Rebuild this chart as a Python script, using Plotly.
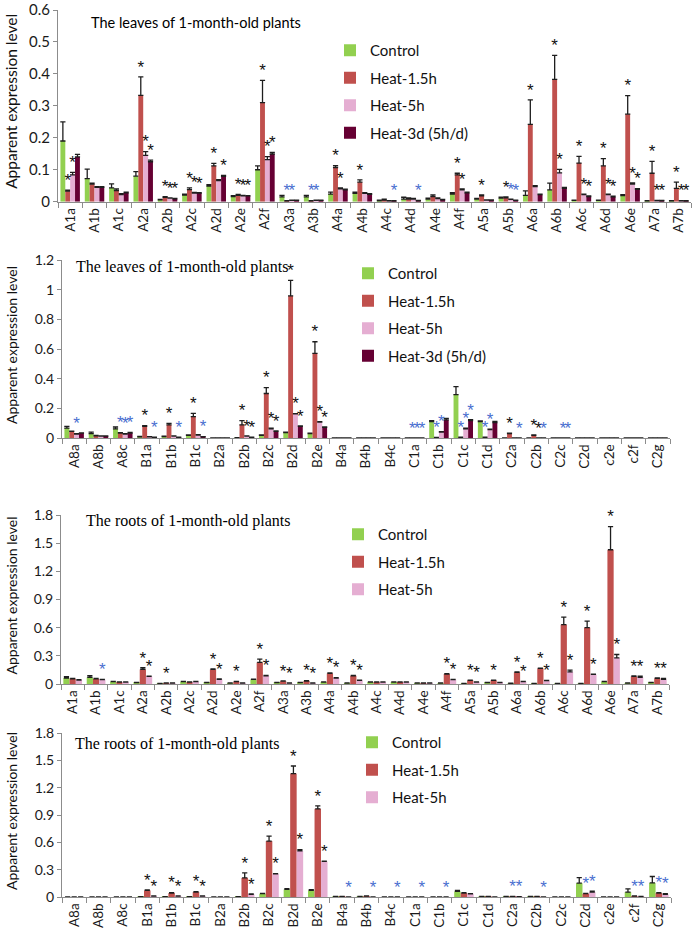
import plotly.graph_objects as go

# ---------------- categories ----------------
cats_a = ["A1a", "A1b", "A1c", "A2a", "A2b", "A2c", "A2d", "A2e", "A2f", "A3a", "A3b",
          "A4a", "A4b", "A4c", "A4d", "A4e", "A4f", "A5a", "A5b", "A6a", "A6b", "A6c",
          "A6d", "A6e", "A7a", "A7b"]
cats_b = ["A8a", "A8b", "A8c", "B1a", "B1b", "B1c", "B2a", "B2b", "B2c", "B2d", "B2e",
          "B4a", "B4b", "B4c", "C1a", "C1b", "C1c", "C1d", "C2a", "C2b", "C2c", "C2d",
          "c2e", "c2f", "C2g"]
series_names = ["Control", "Heat-1.5h", "Heat-5h", "Heat-3d (5h/d)"]

# ---------------- panel 1 : leaves, A genes ----------------
p1_ctrl = [0.19, 0.072, 0.043, 0.08, 0.006, 0.021, 0.049, 0.016, 0.10, 0.015, 0.015, 0.024, 0.026,
           0.003, 0.008, 0.008, 0.024, 0.008, 0.011, 0.02, 0.037, 0.004, 0.004, 0.019, 0.002, 0.002]
p1_ctrl_err = [0.06, 0.03, 0.013, 0.014, 0.001, 0.003, 0.004, 0.003, 0.012, 0.005, 0.005, 0.006, 0.004,
               0.002, 0.006, 0.003, 0.004, 0.002, 0.003, 0.014, 0.021, 0.001, 0.001, 0.003, 0.001, 0.001]
p1_h15 = [0.033, 0.055, 0.035, 0.333, 0.014, 0.038, 0.112, 0.02, 0.31, 0.002, 0.002, 0.107, 0.061,
          0.005, 0.008, 0.016, 0.084, 0.018, 0.012, 0.242, 0.383, 0.121, 0.112, 0.274, 0.089, 0.042]
p1_h15_err = [0.003, 0.003, 0.005, 0.058, 0.002, 0.005, 0.008, 0.003, 0.07, 0.001, 0.001, 0.006, 0.007,
              0.003, 0.004, 0.005, 0.005, 0.003, 0.003, 0.077, 0.075, 0.021, 0.023, 0.058, 0.037, 0.019]
p1_h5 = [0.084, 0.045, 0.022, 0.145, 0.011, 0.027, 0.066, 0.018, 0.132, 0.004, 0.004, 0.04, 0.026,
         0.002, 0.008, 0.01, 0.037, 0.005, 0.007, 0.047, 0.09, 0.022, 0.022, 0.055, 0.003, 0.002]
p1_h5_err = [0.008, 0.002, 0.003, 0.012, 0.001, 0.002, 0.003, 0.002, 0.009, 0.001, 0.001, 0.003, 0.002,
             0.001, 0.002, 0.002, 0.003, 0.001, 0.001, 0.003, 0.011, 0.002, 0.002, 0.004, 0.001, 0.001]
p1_h3d = [0.14, 0.045, 0.028, 0.125, 0.009, 0.027, 0.079, 0.018, 0.149, 0.004, 0.004, 0.037, 0.023,
          0.002, 0.003, 0.006, 0.028, 0.005, 0.004, 0.022, 0.042, 0.016, 0.015, 0.039, 0.003, 0.002]
p1_h3d_err = [0.008, 0.002, 0.002, 0.005, 0.001, 0.001, 0.003, 0.001, 0.005, 0.001, 0.001, 0.002, 0.002,
              0.001, 0.001, 0.001, 0.002, 0.001, 0.001, 0.002, 0.003, 0.002, 0.002, 0.002, 0.001, 0.001]
# significance marks: 0 none, 1 black asterisk, 2 blue asterisk
p1_sig_h15 = [1, 0, 0, 1, 1, 1, 1, 1, 1, 2, 2, 1, 1, 0, 0, 0, 1, 1, 1, 1, 1, 1, 1, 1, 1, 1]
p1_sig_h5 = [1, 0, 0, 1, 1, 1, 0, 1, 1, 2, 2, 1, 0, 0, 0, 0, 1, 0, 2, 0, 1, 1, 1, 1, 1, 1]
p1_sig_h3d = [0, 0, 0, 1, 1, 1, 1, 1, 1, 0, 0, 0, 0, 2, 2, 0, 0, 0, 2, 0, 0, 1, 1, 1, 1, 1]

# ---------------- panel 2 : leaves, A8/B/C genes ----------------
p2_ctrl = [0.067, 0.029, 0.062, 0.008, 0.01, 0.018, 0, 0.002, 0.018, 0.036, 0.029, 0, 0,
           0, 0, 0.111, 0.293, 0.111, 0, 0, 0, 0, 0, 0, 0]
p2_ctrl_err = [0.011, 0.01, 0.012, 0.002, 0.002, 0.003, 0, 0.001, 0.003, 0.004, 0.004, 0, 0,
               0, 0, 0.006, 0.054, 0.005, 0, 0, 0, 0, 0, 0, 0]
p2_h15 = [0.044, 0.015, 0.033, 0.078, 0.089, 0.144, 0, 0.089, 0.30, 0.958, 0.571, 0, 0,
          0, 0, 0.003, 0.004, 0.004, 0.029, 0.018, 0, 0, 0, 0, 0]
p2_h15_err = [0.003, 0.002, 0.003, 0.005, 0.01, 0.022, 0, 0.028, 0.04, 0.105, 0.078, 0, 0,
              0, 0, 0.001, 0.001, 0.001, 0.003, 0.003, 0, 0, 0, 0, 0]
p2_h5 = [0.027, 0.013, 0.027, 0.008, 0.012, 0.02, 0, 0.013, 0.062, 0.162, 0.107, 0, 0,
         0, 0, 0.04, 0.062, 0.056, 0, 0, 0, 0, 0, 0, 0]
p2_h5_err = [0.002, 0.001, 0.002, 0.001, 0.002, 0.002, 0, 0.002, 0.004, 0.003, 0.004, 0, 0,
             0, 0, 0.003, 0.004, 0.003, 0, 0, 0, 0, 0, 0, 0]
p2_h3d = [0.033, 0.013, 0.033, 0.004, 0.004, 0.008, 0, 0.005, 0.044, 0.078, 0.071, 0, 0,
          0, 0, 0.122, 0.118, 0.104, 0, 0, 0, 0, 0, 0, 0]
p2_h3d_err = [0.002, 0.001, 0.005, 0.001, 0.001, 0.001, 0, 0.001, 0.004, 0.003, 0.004, 0, 0,
              0, 0, 0.01, 0.005, 0.008, 0, 0, 0, 0, 0, 0, 0]
p2_sig_h15 = [0, 0, 2, 1, 1, 1, 0, 1, 1, 1, 1, 0, 0, 0, 2, 2, 2, 2, 1, 1, 0, 0, 0, 0, 0]
p2_sig_h5 = [2, 0, 2, 0, 0, 0, 0, 1, 1, 1, 1, 0, 0, 0, 2, 2, 2, 2, 0, 1, 2, 0, 0, 0, 0]
p2_sig_h3d = [0, 0, 2, 2, 2, 2, 0, 1, 1, 1, 1, 0, 0, 0, 2, 0, 2, 0, 2, 2, 2, 0, 0, 0, 0]

# ---------------- panel 3 : roots, A genes ----------------
p3_ctrl = [0.064, 0.07, 0.025, 0.015, 0.005, 0.025, 0.015, 0.01, 0.049, 0.015, 0.015, 0.02, 0.01,
           0.021, 0.021, 0.01, 0.01, 0.005, 0.015, 0.008, 0.005, 0.005, 0.005, 0.025, 0.01, 0.015]
p3_ctrl_err = [0.015, 0.018, 0.003, 0.002, 0.001, 0.002, 0.002, 0.001, 0.003, 0.001, 0.001, 0.003, 0.001,
               0.002, 0.002, 0.001, 0.001, 0.001, 0.002, 0.001, 0.001, 0.001, 0.001, 0.003, 0.001, 0.002]
p3_h15 = [0.056, 0.055, 0.02, 0.155, 0.01, 0.02, 0.155, 0.025, 0.23, 0.03, 0.032, 0.113, 0.088,
          0.021, 0.021, 0.01, 0.106, 0.039, 0.039, 0.124, 0.166, 0.632, 0.60, 1.43, 0.081, 0.06]
p3_h15_err = [0.004, 0.004, 0.002, 0.018, 0.001, 0.002, 0.005, 0.003, 0.035, 0.003, 0.003, 0.004, 0.004,
              0.002, 0.002, 0.001, 0.005, 0.003, 0.003, 0.004, 0.004, 0.081, 0.07, 0.246, 0.004, 0.004]
p3_h5 = [0.042, 0.046, 0.02, 0.081, 0.01, 0.025, 0.05, 0.01, 0.088, 0.01, 0.01, 0.064, 0.039,
         0.021, 0.021, 0.01, 0.046, 0.021, 0.015, 0.025, 0.035, 0.13, 0.102, 0.279, 0.071, 0.049]
p3_h5_err = [0.003, 0.004, 0.002, 0.003, 0.001, 0.002, 0.003, 0.001, 0.003, 0.001, 0.001, 0.003, 0.003,
             0.002, 0.002, 0.001, 0.003, 0.002, 0.002, 0.003, 0.003, 0.018, 0.004, 0.035, 0.012, 0.011]
p3_sig_h15 = [0, 0, 0, 1, 1, 0, 1, 1, 1, 1, 1, 1, 1, 0, 0, 0, 1, 1, 1, 1, 1, 1, 1, 1, 1, 1]
p3_sig_h5 = [0, 2, 0, 1, 0, 0, 1, 0, 1, 1, 1, 1, 1, 0, 0, 0, 1, 1, 0, 1, 1, 1, 1, 1, 1, 1]

# ---------------- panel 4 : roots, A8/B/C genes ----------------
p4_ctrl = [0, 0, 0, 0.002, 0.002, 0.002, 0, 0.002, 0.036, 0.083, 0.072, 0.005, 0.005,
           0, 0, 0, 0.061, 0.005, 0.005, 0.005, 0, 0.152, 0, 0.054, 0.155]
p4_ctrl_err = [0, 0, 0, 0.001, 0.001, 0.001, 0, 0.001, 0.004, 0.01, 0.01, 0.001, 0.001,
               0, 0, 0, 0.012, 0.001, 0.001, 0.001, 0, 0.06, 0, 0.036, 0.07]
p4_h15 = [0, 0, 0, 0.072, 0.043, 0.054, 0, 0.21, 0.614, 1.355, 0.968, 0.005, 0.01,
          0, 0, 0, 0.043, 0.005, 0.005, 0.005, 0, 0.036, 0, 0.01, 0.043]
p4_h15_err = [0, 0, 0, 0.005, 0.004, 0.004, 0, 0.054, 0.055, 0.083, 0.032, 0.001, 0.002,
              0, 0, 0, 0.004, 0.001, 0.001, 0.001, 0, 0.004, 0, 0.003, 0.004]
p4_h5 = [0, 0, 0, 0.01, 0.01, 0.01, 0, 0.03, 0.253, 0.506, 0.39, 0, 0,
         0, 0, 0, 0.035, 0, 0.003, 0, 0, 0.054, 0, 0.005, 0.03]
p4_h5_err = [0, 0, 0, 0.002, 0.002, 0.002, 0, 0.004, 0.004, 0.015, 0.003, 0, 0,
             0, 0, 0, 0.003, 0, 0.001, 0, 0, 0.01, 0, 0.002, 0.008]
p4_sig_h15 = [0, 0, 0, 1, 1, 1, 0, 1, 1, 1, 1, 0, 0, 0, 0, 0, 0, 0, 2, 0, 0, 2, 0, 2, 2]
p4_sig_h5 = [0, 0, 0, 1, 1, 1, 0, 1, 1, 1, 1, 2, 2, 2, 2, 2, 0, 0, 2, 2, 0, 2, 0, 2, 2]

# tick labels
p1_ticks = [0, 0.1, 0.2, 0.3, 0.4, 0.5, 0.6]
p1_ticktext = ["0", "0.1", "0.2", "0.3", "0.4", "0.5", "0.6"]
p2_ticks = [0, 0.2, 0.4, 0.6, 0.8, 1.0, 1.2]
p2_ticktext = ["0", "0.2", "0.4", "0.6", "0.8", "1", "1.2"]
p34_ticks = [0, 0.3, 0.6, 0.9, 1.2, 1.5, 1.8]
p34_ticktext = ["0", "0.3", "0.6", "0.9", "1.2", "1.5", "1.8"]

# ---------------- styling ----------------
W, H = 698, 934
series_colors = ["#92D050", "#C0504D", "#E5AED2", "#660033"]
star_colors = {0: "rgba(0,0,0,0)", 1: "#111111", 2: "#4A6FD0"}
SANS = "Lato, 'Liberation Sans', Arial, sans-serif"
STAR = "'Liberation Sans', Arial, sans-serif"
SERIF = "'Liberation Serif', 'Times New Roman', serif"
AXIS_GRAY = "#8C8C8C"


def fx(px):
    return px / W


def fy(px):
    return 1 - px / H


panels = [
    dict(cats=cats_a, vals=[p1_ctrl, p1_h15, p1_h5, p1_h3d],
         errs=[p1_ctrl_err, p1_h15_err, p1_h5_err, p1_h3d_err],
         sigs=[[0] * len(cats_a), p1_sig_h15, p1_sig_h5, p1_sig_h3d],
         xdom=(58, 691), ydom=(10, 201.7), yr=0.6, tv=p1_ticks, tt=p1_ticktext,
         title="The leaves of 1-month-old plants", tfont=SANS, tsize=14.5, tx=89, ty=23,
         leg=(330, 34), tickfs=15, ytfs=15.5),
    dict(cats=cats_b, vals=[p2_ctrl, p2_h15, p2_h5, p2_h3d],
         errs=[p2_ctrl_err, p2_h15_err, p2_h5_err, p2_h3d_err],
         sigs=[[0] * len(cats_b), p2_sig_h15, p2_sig_h5, p2_sig_h3d],
         xdom=(62, 670), ydom=(260, 438), yr=1.2, tv=p2_ticks, tt=p2_ticktext,
         title="The leaves of 1-month-old plants", tfont=SERIF, tsize=16, tx=74, ty=267,
         leg=(348, 257), tickfs=14, ytfs=14),
    dict(cats=cats_a, vals=[p3_ctrl, p3_h15, p3_h5],
         errs=[p3_ctrl_err, p3_h15_err, p3_h5_err],
         sigs=[[0] * len(cats_a), p3_sig_h15, p3_sig_h5],
         xdom=(61, 669), ydom=(515, 684), yr=1.8, tv=p34_ticks, tt=p34_ticktext,
         title="The roots of 1-month-old plants", tfont=SERIF, tsize=16, tx=84, ty=521,
         leg=(338, 518), tickfs=14, ytfs=14),
    dict(cats=cats_b, vals=[p4_ctrl, p4_h15, p4_h5],
         errs=[p4_ctrl_err, p4_h15_err, p4_h5_err],
         sigs=[[0] * len(cats_b), p4_sig_h15, p4_sig_h5],
         xdom=(62, 671), ydom=(733, 897), yr=1.8, tv=p34_ticks, tt=p34_ticktext,
         title="The roots of 1-month-old plants", tfont=SERIF, tsize=16, tx=73, ty=744,
         leg=(352, 726), tickfs=14, ytfs=14),
]

fig = go.Figure()
layout = dict(
    width=W, height=H, margin=dict(l=0, r=0, t=0, b=0, autoexpand=False),
    paper_bgcolor="white", plot_bgcolor="white",
    barmode="group", bargap=0.2, bargroupgap=0.0,
    scattermode="group", scattergap=0.2,
    showlegend=True, hovermode=False,
    annotations=[],
)

for i, p in enumerate(panels, start=1):
    xa = "x" if i == 1 else f"x{i}"
    ya = "y" if i == 1 else f"y{i}"
    legname = "legend" if i == 1 else f"legend{i}"
    cats = p["cats"]
    for k, (vals, errs) in enumerate(zip(p["vals"], p["errs"])):
        ep = [e if (v > 0 and e > 0) else None for v, e in zip(vals, errs)]
        em = [0 if (v > 0 and e > 0) else None for v, e in zip(vals, errs)]
        fig.add_trace(go.Bar(
            x=cats, y=vals, name=series_names[k], xaxis=xa, yaxis=ya,
            marker=dict(color=series_colors[k], line=dict(width=0)),
            error_y=dict(type="data", array=ep, arrayminus=em, symmetric=False,
                         color="#1E1E1E", thickness=1.3, width=2.6),
            offsetgroup=f"p{i}s{k}", legendgroup=f"p{i}s{k}", legend=legname,
        ))
    for k, (vals, errs, sig) in enumerate(zip(p["vals"], p["errs"], p["sigs"])):
        ytop = [v + e for v, e in zip(vals, errs)]
        fig.add_trace(go.Scatter(
            x=cats, y=ytop, mode="text", xaxis=xa, yaxis=ya,
            text=["*" if s else "" for s in sig], textposition="top center",
            textfont=dict(family=STAR, size=17, color=[star_colors[s] for s in sig]),
            offsetgroup=f"p{i}s{k}", showlegend=False, cliponaxis=False, hoverinfo="skip",
        ))
    xkey = "xaxis" if i == 1 else f"xaxis{i}"
    ykey = "yaxis" if i == 1 else f"yaxis{i}"
    layout[xkey] = dict(
        domain=[fx(p["xdom"][0]), fx(p["xdom"][1])], anchor=ya, type="category",
        categoryorder="array", categoryarray=cats, automargin=False,
        tickangle=-90, tickfont=dict(family=SANS, size=13.5, color="#1a1a1a"),
        showline=True, linecolor=AXIS_GRAY, linewidth=1,
        ticks="outside", tickson="boundaries", ticklen=5, tickcolor=AXIS_GRAY,
        showgrid=False, zeroline=False, fixedrange=True,
    )
    layout[ykey] = dict(
        domain=[fy(p["ydom"][1]), fy(p["ydom"][0])], anchor=xa, automargin=False,
        range=[0, p["yr"]], tickvals=p["tv"], ticktext=p["tt"],
        tickfont=dict(family=SANS, size=p["tickfs"], color="#1a1a1a"),
        showline=True, linecolor=AXIS_GRAY, linewidth=1,
        ticks="outside", ticklen=4, tickcolor=AXIS_GRAY,
        showgrid=False, zeroline=False, fixedrange=True,
    )
    layout[legname] = dict(
        x=fx(p["leg"][0]), y=fy(p["leg"][1]), xanchor="left", yanchor="top",
        bgcolor="rgba(0,0,0,0)", borderwidth=0, tracegroupgap=5,
        font=dict(family=SANS, size=15, color="#111111"), itemwidth=30,
        traceorder="grouped",
    )
    layout["annotations"].append(dict(
        text=p["title"], x=fx(p["tx"]), y=fy(p["ty"]), xref="paper", yref="paper",
        xanchor="left", yanchor="middle", showarrow=False,
        font=dict(family=p["tfont"], size=p["tsize"], color="#000000"),
    ))
    layout["annotations"].append(dict(
        text="Apparent expression level", x=fx(11),
        y=fy((p["ydom"][0] + p["ydom"][1]) / 2 - 4), xref="paper", yref="paper",
        xanchor="center", yanchor="middle", showarrow=False, textangle=-90,
        font=dict(family=SANS, size=p["ytfs"], color="#111111"),
    ))

fig.update_layout(**layout)
fig.write_html(
    "out.html",
    config={"displayModeBar": False, "staticPlot": False},
    post_script="document.body.style.margin='0';document.body.style.padding='0';",
)
